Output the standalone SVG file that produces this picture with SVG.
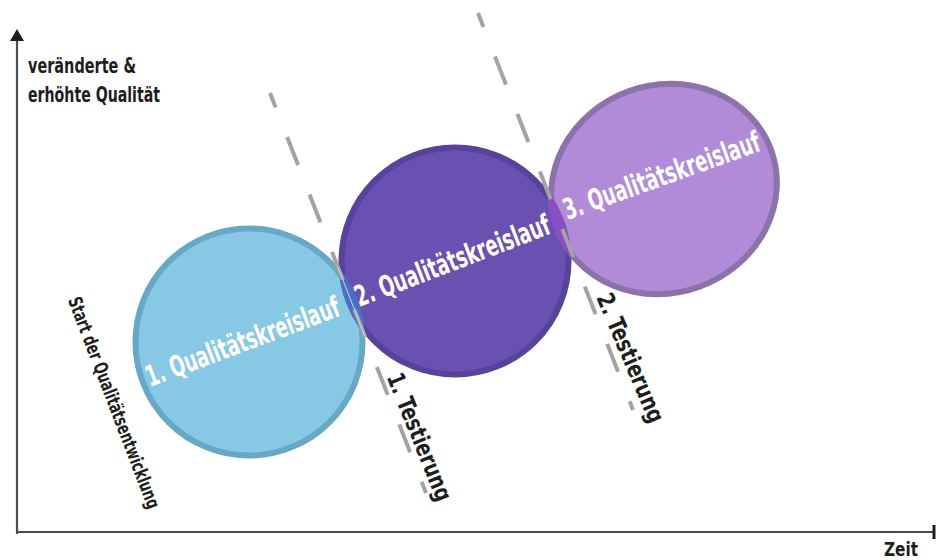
<svg xmlns="http://www.w3.org/2000/svg" width="936" height="560" viewBox="0 0 936 560">
  <style>
    .axis { stroke: #4d4d4d; stroke-width: 2.2; fill: none; }
    .lbl { font-family: "Liberation Sans Narrow", "DejaVu Sans Condensed", "Liberation Sans", sans-serif; font-weight: bold; fill: #1e1e1e; }
    .cyc { font-family: "Liberation Sans Narrow", "DejaVu Sans Condensed", "Liberation Sans", sans-serif; font-weight: bold; fill: #ffffff; font-size: 29px; }
    .test { stroke: #a3a3a3; stroke-width: 4; fill: none; stroke-dasharray: 30 31.7; }
  </style>
  <defs>
    <clipPath id="in1"><circle cx="249" cy="342" r="116.5"/></clipPath>
    <clipPath id="in3"><ellipse cx="664" cy="189" rx="117" ry="107" transform="rotate(-20 664 189)"/></clipPath>
  </defs>

  <!-- axes -->
  <g id="axes">
    <line class="axis" x1="17" y1="534" x2="17" y2="40"/>
    <polygon points="17,29 10,41 24,41" fill="#1e1e1e"/>
    <line class="axis" x1="16" y1="532" x2="934" y2="532"/>
    <line x1="934" y1="525" x2="934" y2="539" stroke="#1e1e1e" stroke-width="3"/>
  </g>

  <!-- quality cycles -->
  <g id="cycle1">
    <circle cx="249" cy="342" r="113.5" fill="#87c9e5" stroke="#66a8c6" stroke-width="6"/>
  </g>
  <g id="cycle2">
    <circle cx="455" cy="261" r="113.5" fill="#6a50b0" stroke="#57439a" stroke-width="6"/>
  </g>
  <g id="cycle3">
    <ellipse cx="664" cy="189" rx="114" ry="104" transform="rotate(-20 664 189)" fill="#b18ad8" stroke="#8b72a8" stroke-width="6"/>
  </g>

  <!-- overlap lenses -->
  <g id="overlaps">
    <circle cx="455" cy="261" r="116.5" fill="#4b6fc4" clip-path="url(#in1)"/>
    <circle cx="455" cy="261" r="116.5" fill="#8a4ec4" clip-path="url(#in3)"/>
  </g>

  <!-- test boundaries -->
  <g id="connectors">
    <line class="test" x1="270" y1="93" x2="426" y2="493" stroke-dashoffset="14.5"/>
    <line class="test" x1="478" y1="13" x2="633" y2="410" stroke-dashoffset="15"/>
    <line x1="270" y1="93" x2="426" y2="493" stroke="#c8d6ee" stroke-width="1" clip-path="url(#in1)"/>
  </g>

  <!-- cycle labels -->
  <g id="cycle-labels">
    <text class="cyc" transform="translate(246 351) rotate(-20.5)" text-anchor="middle" textLength="205" lengthAdjust="spacingAndGlyphs">1. Qualitätskreislauf</text>
    <text class="cyc" transform="translate(456 270) rotate(-21)" text-anchor="middle" textLength="207" lengthAdjust="spacingAndGlyphs">2. Qualitätskreislauf</text>
    <text class="cyc" transform="translate(665 185) rotate(-19.7)" text-anchor="middle" textLength="207" lengthAdjust="spacingAndGlyphs">3. Qualitätskreislauf</text>
  </g>

  <!-- annotations -->
  <g id="start">
    <text class="lbl" font-size="19" transform="translate(108 405) rotate(69)" text-anchor="middle" textLength="225" lengthAdjust="spacingAndGlyphs">Start der Qualitätsentwicklung</text>
  </g>
  <g id="test1">
    <text class="lbl" font-size="24" transform="translate(412 440) rotate(68)" text-anchor="middle" textLength="136" lengthAdjust="spacingAndGlyphs">1. Testierung</text>
  </g>
  <g id="test2">
    <text class="lbl" font-size="24" transform="translate(623 361) rotate(67)" text-anchor="middle" textLength="138" lengthAdjust="spacingAndGlyphs">2. Testierung</text>
  </g>
  <g id="y-label">
    <text class="lbl" font-size="21" x="28" y="73" textLength="108" lengthAdjust="spacingAndGlyphs">veränderte &amp;</text>
    <text class="lbl" font-size="21" x="28" y="102" textLength="132" lengthAdjust="spacingAndGlyphs">erhöhte Qualität</text>
  </g>
  <g id="x-label">
    <text class="lbl" font-size="20" x="884" y="556" textLength="34" lengthAdjust="spacingAndGlyphs">Zeit</text>
  </g>
</svg>
